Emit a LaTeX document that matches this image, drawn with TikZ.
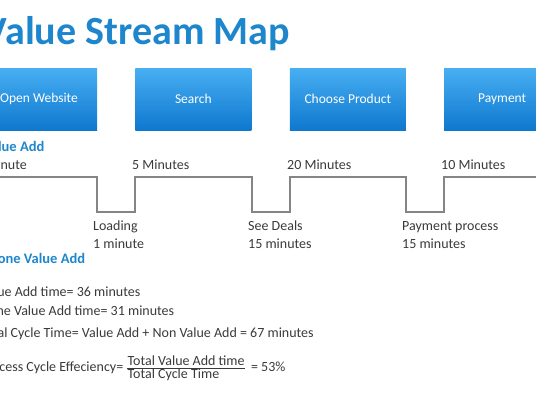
\documentclass[tikz,border=0pt]{standalone}
\usepackage{fontspec}
\setmainfont{Carlito}
\usetikzlibrary{positioning,calc}
\definecolor{vsmblue}{HTML}{1E86CC}
\definecolor{boxtop}{HTML}{48AFF2}
\definecolor{boxbot}{HTML}{0E78CF}
\definecolor{stepgray}{HTML}{858585}
\definecolor{txtgray}{HTML}{3A3A3A}

\begin{document}
\begin{tikzpicture}[x=1pt, y=-1pt,
  node distance=5mm and 38pt,
  box/.style={rectangle,top color=boxtop,bottom color=boxbot,draw=none,minimum width=116pt,minimum height=62pt,inner sep=0pt,text=white,font=\fontsize{13.5}{16}\selectfont},
  lbl/.style={anchor=base west,inner sep=0pt,text=txtgray,font=\fontsize{14}{16}\selectfont},
  hdr/.style={lbl,text=vsmblue,font=\fontsize{14.5}{16}\selectfont\bfseries},
  timeline/.style={draw=stepgray,line width=1.8pt}]
\useasboundingbox (0,0) rectangle (536,400);
\clip (0,0) rectangle (536,400);
\node[anchor=base east,inner sep=0pt,text=vsmblue,font=\fontsize{40}{46}\selectfont\bfseries] (title) at (290,44) {Value Stream Map};
% process boxes
\node[box] (open) at (39,99) {Open Website};
\node[box, right=of open] (search) {Search};
\node[box, right=of search] (choose) {Choose Product};
\node[box, right=of choose] (pay) {Payment};
% timeline
\coordinate (hi) at (-5,177);
\coordinate (lo) at (-5,212);
\draw[timeline] (hi) -- (open.east |- hi) -- (open.east |- lo) -- (search.west |- lo)
  -- (search.west |- hi) -- (search.east |- hi) -- (search.east |- lo) -- (choose.west |- lo)
  -- (choose.west |- hi) -- (choose.east |- hi) -- (choose.east |- lo) -- (pay.west |- lo)
  -- (pay.west |- hi) -- (pay.east |- hi);
\node[hdr] (va) at (-17,151) {Value Add};
\node[lbl] (t1) at (-25,169) {1 Minute};
\node[lbl] (t2) at (132,169) {5 Minutes};
\node[lbl] (t3) at (287,169) {20 Minutes};
\node[lbl] (t4) at (441,169) {10 Minutes};
\node[lbl] (w1) at (93,230) {Loading};
\node[lbl] (w1t) at (93,248) {1 minute};
\node[lbl] (w2) at (248,230) {See Deals};
\node[lbl] (w2t) at (248,248) {15 minutes};
\node[lbl] (w3) at (402,230) {Payment process};
\node[lbl] (w3t) at (402,248) {15 minutes};
\node[hdr] (nva) at (-12,263) {None Value Add};
% totals
\node[lbl] (vat) at (-20,296) {Value Add time= 36 minutes};
\node[lbl] (nvat) at (-20,315) {None Value Add time= 31 minutes};
\node[lbl] (tct) at (-20,337) {Total Cycle Time= Value Add + Non Value Add = 67 minutes};
\node[lbl] (pce) at (-20,371) {Process Cycle Effeciency=};
\node[lbl] (num) at ($(pce.base east)+(4,-6)$) {Total Value Add time};
\node[lbl] (den) at ($(num.base west)+(0,13)$) {Total Cycle Time};
\draw[txtgray, line width=0.7pt] ($(num.base west)+(0,3)$) -- ($(num.base east)+(0,3)$);
\node[lbl] (pct) at ($(num.base east)+(6,6)$) {= 53\%};
\end{tikzpicture}
\end{document}
